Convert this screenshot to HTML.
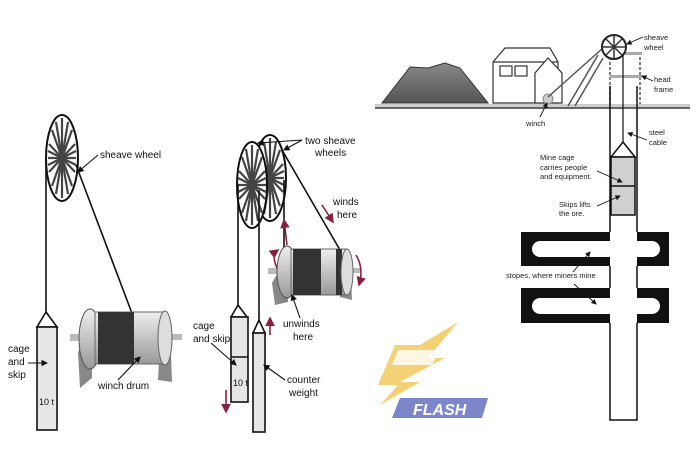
<!DOCTYPE html>
<html><head><meta charset="utf-8"><style>
body{margin:0;background:#fff}
svg{display:block;font-family:"Liberation Sans",sans-serif}
</style></head><body>
<svg width="700" height="469" viewBox="0 0 700 469" xmlns="http://www.w3.org/2000/svg">
<defs>
<marker id="a" markerWidth="6" markerHeight="6" refX="5" refY="3" orient="auto"><path d="M0,0L6,3L0,6z" fill="#111"/></marker>
<marker id="r" markerWidth="6" markerHeight="6" refX="5" refY="3" orient="auto"><path d="M0,0L6,3L0,6z" fill="#8a2040"/></marker>
<linearGradient id="dr" x1="0" y1="0" x2="0" y2="1"><stop offset="0" stop-color="#eee"/><stop offset="1" stop-color="#999"/></linearGradient>
<linearGradient id="hill" x1="0" y1="0" x2="0" y2="1"><stop offset="0" stop-color="#888"/><stop offset="1" stop-color="#555"/></linearGradient>
<g id="spokes" stroke="#444" stroke-width="2.2">
<line x1="0" y1="-40" x2="0" y2="40"/><line x1="-14" y1="0" x2="14" y2="0"/>
<line x1="-10" y1="-28" x2="10" y2="28"/><line x1="10" y1="-28" x2="-10" y2="28"/>
<line x1="-13" y1="-14" x2="13" y2="14"/><line x1="13" y1="-14" x2="-13" y2="14"/>
<line x1="-6" y1="-36" x2="6" y2="36"/><line x1="6" y1="-36" x2="-6" y2="36"/>
<line x1="-14" y1="-7" x2="14" y2="7"/><line x1="14" y1="-7" x2="-14" y2="7"/>
</g>
</defs>
<g fill="none" stroke="#111" stroke-width="1.6">
<ellipse cx="62" cy="158" rx="16" ry="43" fill="#fff" stroke-width="2"/>
<use href="#spokes" x="62" y="158"/>
<line x1="46" y1="160" x2="46" y2="312"/>
<line x1="76" y1="165" x2="133" y2="316"/>
<path d="M46,312L37,327H57Z" fill="#fff"/>
<rect x="37" y="327" width="20" height="103" fill="#e6e6e6"/>
</g>
<rect x="70" y="334" width="20" height="7" fill="#bbb"/>
<rect x="170" y="334" width="12" height="6" fill="#bbb"/>
<path d="M78,352L92,325L92,378L80,388Z" fill="#888"/>
<path d="M160,342L170,325L172,382L158,380Z" fill="#888"/>
<ellipse cx="90" cy="339" rx="11" ry="30" fill="url(#dr)" stroke="#555"/>
<rect x="95" y="312" width="70" height="52" fill="url(#dr)" stroke="#666"/>
<rect x="98" y="312" width="36" height="52" fill="#333"/>
<ellipse cx="165" cy="338" rx="7" ry="27" fill="#ddd" stroke="#666"/>
<g font-size="10" fill="#111">
<text x="100" y="158">sheave wheel</text>
<text x="8" y="352">cage</text><text x="8" y="365">and</text><text x="8" y="378">skip</text>
<text x="39" y="405" font-size="9">10 t</text>
<text x="98" y="389">winch drum</text>
</g>
<g stroke="#111" stroke-width="1.1" fill="none" marker-end="url(#a)">
<line x1="98" y1="155" x2="78" y2="172"/>
<line x1="28" y1="363" x2="47" y2="363"/>
<line x1="118" y1="380" x2="140" y2="357"/>
</g>
<g fill="none" stroke="#111" stroke-width="1.6">
<ellipse cx="270" cy="178" rx="16" ry="43" fill="#fff" stroke-width="2"/>
<use href="#spokes" x="270" y="178"/>
<ellipse cx="252" cy="185" rx="15" ry="43" fill="#fff" stroke-width="2"/>
<use href="#spokes" x="252" y="185"/>
<line x1="238" y1="185" x2="238" y2="305"/>
<line x1="259" y1="190" x2="259" y2="320"/>
<line x1="284" y1="180" x2="284" y2="248"/>
<line x1="282" y1="150" x2="340" y2="250"/>
<path d="M238,305L231,317H247Z" fill="#fff"/>
<rect x="231" y="317" width="17" height="85" fill="#e6e6e6"/>
<line x1="231" y1="357" x2="248" y2="357"/>
<path d="M259,320L253,333H265Z" fill="#fff"/>
<rect x="253" y="333" width="12" height="99" fill="#e6e6e6"/>
</g>
<rect x="268" y="268" width="12" height="6" fill="#bbb"/>
<rect x="350" y="268" width="10" height="5" fill="#bbb"/>
<path d="M272,283L286,258L288,302L275,305Z" fill="#888"/>
<path d="M340,275L350,255L352,300L340,297Z" fill="#888"/>
<ellipse cx="287" cy="272" rx="10" ry="26" fill="url(#dr)" stroke="#555"/>
<rect x="291" y="249" width="55" height="46" fill="url(#dr)" stroke="#666"/>
<rect x="293" y="249" width="28" height="46" fill="#333"/>
<rect x="336" y="249" width="6" height="46" fill="#333"/>
<ellipse cx="347" cy="272" rx="6" ry="23" fill="#ddd" stroke="#666"/>
<g stroke="#8a2040" stroke-width="1.6" fill="none" marker-end="url(#r)">
<line x1="287" y1="245" x2="284" y2="220"/>
<line x1="322" y1="205" x2="333" y2="222"/>
<path d="M277,268Q271,255 278,250"/>
<path d="M356,255Q364,268 359,285"/>
<line x1="270" y1="335" x2="270" y2="318"/>
<line x1="226" y1="390" x2="226" y2="412"/>
</g>
<g font-size="10" fill="#111">
<text x="305" y="144">two sheave</text><text x="315" y="156">wheels</text>
<text x="333" y="205">winds</text><text x="337" y="218">here</text>
<text x="283" y="327">unwinds</text><text x="293" y="340">here</text>
<text x="193" y="329">cage</text><text x="193" y="342">and skip</text>
<text x="233" y="386" font-size="9">10 t</text>
<text x="287" y="383">counter</text><text x="289" y="396">weight</text>
</g>
<g stroke="#111" stroke-width="1.1" fill="none" marker-end="url(#a)">
<line x1="302" y1="140" x2="258" y2="143"/>
<line x1="302" y1="140" x2="284" y2="150"/>
<line x1="211" y1="343" x2="236" y2="365"/>
<line x1="285" y1="380" x2="264" y2="365"/>
<line x1="300" y1="318" x2="292" y2="295"/>
</g>
<line x1="375" y1="108" x2="690" y2="108" stroke="#333" stroke-width="1.5"/>
<rect x="375" y="104" width="315" height="3" fill="#ccc"/>
<path d="M382,103L410,67L428,68L445,63L460,68L488,103Z" fill="url(#hill)" stroke="#333"/>
<g stroke="#333" stroke-width="1.2" fill="#fff">
<path d="M493,103V62L505,48H550L558,62V103Z"/>
<line x1="493" y1="62" x2="558" y2="62"/>
<rect x="500" y="66" width="12" height="10"/><rect x="515" y="66" width="12" height="10"/>
<path d="M535,103V73L548,58L562,73V103Z"/>
</g>
<circle cx="548" cy="99" r="5" fill="#ccc" stroke="#888"/>
<g stroke="#555" stroke-width="1.5" fill="none">
<line x1="568" y1="106" x2="598" y2="55"/><line x1="575" y1="106" x2="603" y2="58"/>
<line x1="548" y1="97" x2="612" y2="40"/>
<line x1="610" y1="52" x2="610" y2="104" stroke-dasharray="3,2"/>
<line x1="640" y1="52" x2="640" y2="104" stroke-dasharray="3,2"/>
</g>
<rect x="612" y="52" width="30" height="3" fill="#aaa"/>
<rect x="610" y="75" width="32" height="3" fill="#aaa"/>
<circle cx="614" cy="47" r="12" fill="#fff" stroke="#222" stroke-width="2"/>
<g stroke="#333" stroke-width="1.5"><line x1="614" y1="35" x2="614" y2="59"/><line x1="602" y1="47" x2="626" y2="47"/><line x1="606" y1="39" x2="622" y2="55"/><line x1="622" y1="39" x2="606" y2="55"/></g>
<g fill="#111">
<rect x="521" y="232" width="89" height="34"/><rect x="637" y="232" width="32" height="34"/>
<rect x="521" y="288" width="89" height="35"/><rect x="637" y="288" width="32" height="35"/>
</g>
<g fill="#fff">
<rect x="532" y="241" width="90" height="16" rx="8"/><rect x="625" y="241" width="35" height="16" rx="8"/>
<rect x="532" y="298" width="90" height="16" rx="8"/><rect x="625" y="298" width="35" height="16" rx="8"/>
<rect x="611" y="110" width="25" height="310"/>
</g>
<g stroke="#111" stroke-width="1.5" fill="none">
<path d="M610,86V232M610,266V288M610,323V420H637V323M637,288V266M637,232V86"/>
<line x1="623" y1="55" x2="623" y2="142" stroke-width="1.2"/>
<path d="M623,142L611,157H635Z" fill="#fff"/>
<rect x="611" y="157" width="24" height="58" fill="#d0d0d0"/>
<line x1="611" y1="186" x2="635" y2="186"/>
</g>
<g font-size="7.5" fill="#222">
<text x="644" y="40">sheave</text><text x="644" y="50">wheel</text>
<text x="654" y="82">head</text><text x="654" y="92">frame</text>
<text x="526" y="126">winch</text>
<text x="649" y="135">steel</text><text x="649" y="145">cable</text>
<text x="540" y="160">Mine cage</text><text x="540" y="170">carries people</text><text x="540" y="179">and equipment.</text>
<text x="559" y="207">Skips lifts</text><text x="559" y="216">the ore.</text>
<text x="506" y="278">stopes, where miners mine</text>
</g>
<g stroke="#111" stroke-width="0.9" fill="none" marker-end="url(#a)">
<line x1="643" y1="37" x2="627" y2="44"/><line x1="653" y1="81" x2="642" y2="76"/>
<line x1="540" y1="117" x2="547" y2="103"/><line x1="647" y1="140" x2="628" y2="133"/>
<line x1="597" y1="171" x2="622" y2="182"/><line x1="597" y1="206" x2="620" y2="196"/>
<line x1="573" y1="272" x2="590" y2="252"/><line x1="574" y1="284" x2="596" y2="304"/>
</g>
<path d="M458,322L420,345L395,345L378,385L398,385L380,405L420,382L400,382L445,358L428,358Z" fill="#f3c95d" opacity="0.85"/>
<path d="M398,350H440L432,365H392Z" fill="#fff" opacity="0.8"/>
<path d="M400,398H488L482,418H392Z" fill="#7d86c8"/>
<text x="413" y="415" font-size="16" font-weight="bold" font-style="italic" fill="#fff">FLASH</text>
</svg>
</body></html>
